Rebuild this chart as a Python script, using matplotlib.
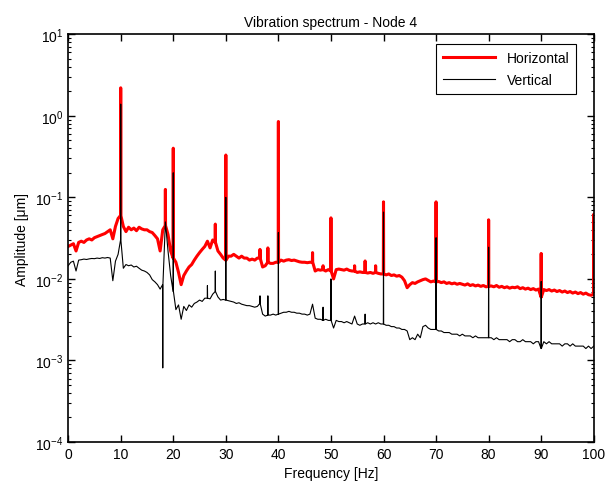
import numpy as np
import matplotlib
matplotlib.use("Agg")
import matplotlib.pyplot as plt
from matplotlib.ticker import LogLocator, NullFormatter, MultipleLocator

plt.rcParams['font.family'] = ['Liberation Sans', 'DejaVu Sans']

# frequency grid of the read-off baseline values [Hz]
freq = np.arange(0, 100.5, 0.5)

# Horizontal: baseline amplitude [um], one value per 0.5 Hz
horiz_base = [
    0.025, 0.026, 0.027, 0.022, 0.028, 0.029, 0.028, 0.030, 0.031, 0.030,
    0.032, 0.033, 0.034, 0.035, 0.036, 0.038, 0.040, 0.031, 0.044, 0.055,
    0.060, 0.044, 0.038, 0.043, 0.040, 0.042, 0.039, 0.043, 0.041, 0.040,
    0.040, 0.038, 0.037, 0.034, 0.031, 0.022, 0.040, 0.045, 0.035, 0.022,
    0.018, 0.016, 0.012, 0.0085, 0.011, 0.0125, 0.014, 0.015, 0.017, 0.019,
    0.021, 0.023, 0.025, 0.029, 0.024, 0.030, 0.028, 0.022, 0.020, 0.018,
    0.017, 0.019, 0.019, 0.020, 0.019, 0.018, 0.019, 0.018, 0.018, 0.017,
    0.0175, 0.017, 0.018, 0.018, 0.014, 0.0145, 0.016, 0.0155, 0.0155, 0.016,
    0.016, 0.017, 0.0165, 0.017, 0.0172, 0.0168, 0.017, 0.0166, 0.0162, 0.016,
    0.016, 0.0158, 0.016, 0.016, 0.0125, 0.013, 0.0128, 0.013, 0.0125, 0.013,
    0.0125, 0.010, 0.013, 0.0132, 0.013, 0.0128, 0.0132, 0.0127, 0.0125, 0.0125,
    0.012, 0.0122, 0.012, 0.012, 0.0118, 0.012, 0.0117, 0.012, 0.0117, 0.0115,
    0.0115, 0.0112, 0.0115, 0.011, 0.0112, 0.0108, 0.011, 0.0105, 0.0095, 0.0078,
    0.0085, 0.009, 0.0088, 0.0092, 0.0095, 0.0098, 0.010, 0.0096, 0.0092, 0.0094,
    0.0092, 0.0093, 0.009, 0.0092, 0.0088, 0.009, 0.0087, 0.0089, 0.0086, 0.0088,
    0.0086, 0.0084, 0.0087, 0.0083, 0.0085, 0.0082, 0.0084, 0.0081, 0.0083, 0.008,
    0.0081, 0.0082, 0.008, 0.0083, 0.0079, 0.0081, 0.0078, 0.008, 0.0077, 0.0079,
    0.0078, 0.008, 0.0076, 0.0078, 0.0075, 0.0077, 0.0074, 0.0076, 0.0073, 0.0075,
    0.006, 0.0074, 0.0072, 0.0074, 0.0071, 0.0073, 0.007, 0.0072, 0.0069, 0.0071,
    0.0068, 0.007, 0.0067, 0.0069, 0.0066, 0.0068, 0.0065, 0.0067, 0.0064, 0.0063,
    0.0065,
]
horiz_peak_f = [10, 18.5, 20, 28, 30, 36.5, 38, 40, 46.5, 48.5, 50, 54.5, 56.5,
                58.5, 60, 70, 80, 90, 100]
horiz_peak_v = [2.2, 0.125, 0.4, 0.047, 0.33, 0.023, 0.024, 0.85, 0.021, 0.0145,
                0.056, 0.0145, 0.0166, 0.0145, 0.088, 0.088, 0.053, 0.0205, 0.062]

# Vertical: baseline amplitude [um], one value per 0.5 Hz
vert_base = [
    0.0145, 0.016, 0.0165, 0.0125, 0.017, 0.0172, 0.0175, 0.0173, 0.0176, 0.0178,
    0.0177, 0.018, 0.0178, 0.0182, 0.018, 0.0183, 0.018, 0.0095, 0.0165, 0.020,
    0.030, 0.0135, 0.015, 0.0145, 0.0148, 0.014, 0.0143, 0.0135, 0.0128, 0.0125,
    0.012, 0.0112, 0.0098, 0.0092, 0.0085, 0.0075, 0.0085, 0.050, 0.022, 0.011,
    0.007, 0.0042, 0.0048, 0.0032, 0.0046, 0.0041, 0.0048, 0.0045, 0.005, 0.0052,
    0.0055, 0.0053, 0.0058, 0.0058, 0.0057, 0.0065, 0.007, 0.006, 0.0055, 0.0056,
    0.0055, 0.0054, 0.0053, 0.0052, 0.005, 0.0051, 0.0049, 0.0048, 0.0047, 0.0047,
    0.0046, 0.0045, 0.0046, 0.005, 0.0037, 0.0035, 0.0036, 0.0036, 0.0037, 0.0036,
    0.0037, 0.0038, 0.0039, 0.0039, 0.004, 0.0039, 0.0039, 0.0038, 0.0038, 0.0037,
    0.0037, 0.0036, 0.0037, 0.0049, 0.0033, 0.0032, 0.0032, 0.0031, 0.0032, 0.0031,
    0.0031, 0.0025, 0.0031, 0.003, 0.003, 0.0029, 0.003, 0.0029, 0.0028, 0.0035,
    0.0028, 0.0027, 0.0028, 0.0028, 0.0029, 0.0028, 0.0029, 0.0028, 0.0029, 0.0028,
    0.0028, 0.0027, 0.0027, 0.0026, 0.0026, 0.0025, 0.0025, 0.0024, 0.0024, 0.0023,
    0.0018, 0.0019, 0.0018, 0.0021, 0.0019, 0.0026, 0.0027, 0.0025, 0.0024, 0.0024,
    0.0024, 0.0023, 0.0023, 0.0022, 0.0022, 0.0022, 0.0021, 0.0021, 0.0021, 0.002,
    0.0021, 0.002, 0.002, 0.002, 0.0019, 0.002, 0.0019, 0.0019, 0.0019, 0.0019,
    0.0019, 0.0019, 0.0018, 0.0019, 0.0018, 0.0018, 0.0018, 0.0018, 0.0017, 0.0018,
    0.0018, 0.0017, 0.0017, 0.0018, 0.0017, 0.0017, 0.0017, 0.0016, 0.0017, 0.0017,
    0.0014, 0.0017, 0.0016, 0.0017, 0.0016, 0.0016, 0.0016, 0.0016, 0.0015, 0.0016,
    0.0016, 0.0015, 0.0016, 0.0015, 0.0015, 0.0015, 0.0015, 0.0014, 0.0015, 0.0014,
    0.0015,
]
vert_peak_f = [10, 18, 20, 26.5, 28, 30, 36.5, 38, 40, 48.5, 50, 56.5, 60, 70, 80, 90]
vert_peak_v = [1.39, 0.00081, 0.2, 0.0083, 0.0125, 0.1, 0.0062, 0.0062, 0.037,
               0.0045, 0.01, 0.0037, 0.066, 0.032, 0.0245, 0.0093]


def build(base, pf, pv):
    # baseline points, each spike drawn as a narrow needle on its grid point
    peaks = dict(zip(pf, pv))
    xs, ys = [], []
    for f, b in zip(freq, base):
        f = round(float(f), 2)
        if f in peaks:
            xs += [f - 0.03, f, f + 0.03]
            ys += [b, peaks[f], b]
        else:
            xs.append(f)
            ys.append(b)
    return xs, ys


hx, hy = build(horiz_base, horiz_peak_f, horiz_peak_v)
vx, vy = build(vert_base, vert_peak_f, vert_peak_v)

fig = plt.figure(figsize=(6.14, 4.89), dpi=100)
ax = fig.add_axes([0.111, 0.094, 0.856, 0.834])
ax.semilogy(hx, hy, color='red', lw=2.2, label='Horizontal')
ax.semilogy(vx, vy, color='black', lw=0.8, label='Vertical')

ax.set_xlim(0, 100)
ax.set_ylim(1e-4, 1e1)
ax.xaxis.set_major_locator(MultipleLocator(10))
ax.yaxis.set_major_locator(LogLocator(base=10, numticks=10))
ax.yaxis.set_minor_locator(LogLocator(base=10, subs=np.arange(2, 10), numticks=50))
ax.yaxis.set_minor_formatter(NullFormatter())
ax.tick_params(which='both', direction='in', top=True, right=True, labelsize=10)
ax.tick_params(which='major', length=5, width=1)
ax.tick_params(which='minor', length=2.5, width=0.8)
for s in ax.spines.values():
    s.set_linewidth(1.2)

ax.set_title('Vibration spectrum - Node 4', fontsize=10)
ax.set_xlabel('Frequency [Hz]', fontsize=10)
ax.set_ylabel('Amplitude [\u03bcm]', fontsize=10)

leg = ax.legend(loc='upper right', fancybox=False, framealpha=1, edgecolor='black',
                fontsize=10, handlelength=3.8, borderaxespad=0.7,
                labelspacing=0.6, borderpad=0.5, bbox_to_anchor=(0.985, 1.0))
leg.get_frame().set_linewidth(0.8)

fig.savefig('out.png', dpi=100)
